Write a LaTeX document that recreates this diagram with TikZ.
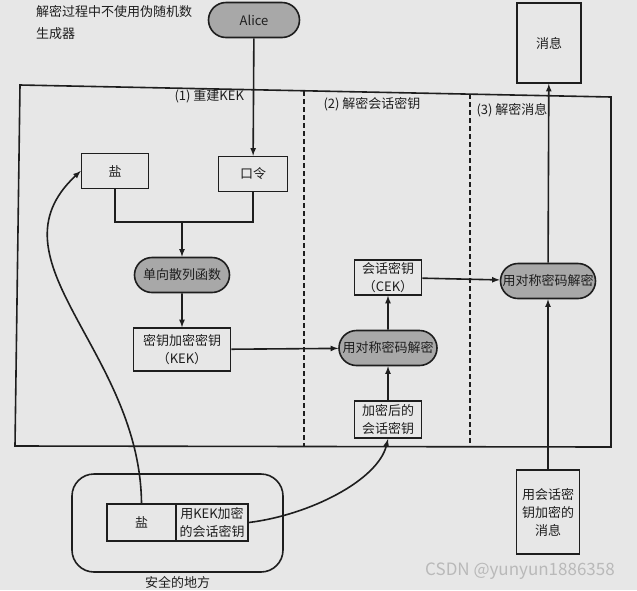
\documentclass[tikz,border=0pt]{standalone}
\usepackage{fontspec}
\usepackage{tikz}
\usetikzlibrary{positioning,shapes.misc}
\newfontfamily\cjk{Noto Sans CJK SC}
\definecolor{PaperGray}{HTML}{E7E7E7}
\definecolor{PillGray}{HTML}{A8A8A8}
\definecolor{InkBlack}{HTML}{1E1E1E}

\begin{document}
\begin{tikzpicture}[x=1pt, y=-1pt, node distance=34pt, >=latex,
    every node/.style={font=\cjk\fontsize{13}{18}\selectfont, text=InkBlack},
    box/.style={draw=InkBlack, line width=1.6pt, align=center, inner sep=2pt, minimum width=67pt, minimum height=35pt},
    pill/.style={draw=InkBlack, line width=1.6pt, rounded rectangle, fill=PillGray, minimum width=99pt, minimum height=35pt, inner sep=2pt},
    wire/.style={draw=InkBlack, line width=1.6pt}]
  \fill[PaperGray] (0,0) rectangle (637,590);
  \useasboundingbox (0,0) rectangle (637,590);

  % outer frame and the three stages
  \draw[wire] (20,85) -- (611,97) -- (611,447) -- (15,446) -- cycle;
  \draw[wire, dash pattern=on 5pt off 3pt] (304,91) -- (304,447);
  \draw[wire, dash pattern=on 5pt off 3pt] (470,94) -- (470,447);
  \node[anchor=west] (stage1) at (171,96) {(1) 重建KEK};
  \node[anchor=west] (stage2) at (320,104) {(2) 解密会话密钥};
  \node[anchor=west] (stage3) at (473,110) {(3) 解密消息};

  \node[align=left, anchor=north west, inner sep=0pt, font=\cjk\fontsize{13}{22}\selectfont] (note) at (36,5) {解密过程中不使用伪随机数\\生成器};
  \node[pill, minimum width=95pt] (alice) at (254,20) {Alice};
  \node[box, minimum width=64pt, minimum height=80pt] (msg) at (549,43) {消息};

  % stage 1
  \node[box] (salt) at (115,171) {盐};
  \node[box, minimum width=69pt] (pw) at (253,174) {口令};
  \coordinate (join) at (182,222);
  \node[pill] (hash) at (182,275) {单向散列函数};
  \node[box, minimum width=97pt, minimum height=43pt, below=of hash] (kek) {密钥加密密钥\\（KEK）};

  % stage 2
  \node[pill, minimum width=102pt] (dec1) at (388,348) {用对称密码解密};
  \node[box, above=of dec1] (cek) {会话密钥\\（CEK）};
  \node[box, minimum height=37pt, below=of dec1] (encsk) {加密后的\\会话密钥};

  % stage 3
  \node[pill] (dec2) at (548,281) {用对称密码解密};
  \node[box, minimum width=63pt, minimum height=84pt] (encmsg) at (548,512) {用会话密\\钥加密的\\消息};

  % secure place
  \node[draw=InkBlack, line width=1.6pt, rounded corners=22pt, minimum width=211pt, minimum height=98pt] (safe) at (177.5,523) {};
  \node[box, minimum width=69pt, minimum height=37pt] (saltin) at (141.5,522.5) {盐};
  \node[box, minimum width=72pt, minimum height=37pt, inner sep=1pt, right=-1.6pt of saltin] (skin) {用KEK加密\\的会话密钥};
  \node[below=2pt of safe, inner sep=1pt] (safelabel) {安全的地方};

  \draw[wire, ->] (alice) -- (pw);
  \draw[wire] (salt) |- (join) -| (pw);
  \draw[wire, ->] (join) -- (hash);
  \draw[wire, ->] (hash) -- (kek);
  \draw[wire, ->] (kek) -- (dec1);
  \draw[wire, ->] (encsk) -- (dec1);
  \draw[wire, ->] (dec1) -- (cek);
  \draw[wire, ->] (cek) -- (dec2);
  \draw[wire, ->] (dec2) -- (msg);
  \draw[wire, ->] (encmsg) -- (dec2);
  \draw[wire, ->] (saltin.north) .. controls (140,350) and (-15,260) .. (salt.west);
  \draw[wire, ->] (skin.east) .. controls (310,515) and (378,480) .. (encsk.south);

  \node[text=gray!55, font=\cjk\fontsize{17}{20}\selectfont] (mark) at (520,571) {CSDN @yunyun1886358};
\end{tikzpicture}
\end{document}
